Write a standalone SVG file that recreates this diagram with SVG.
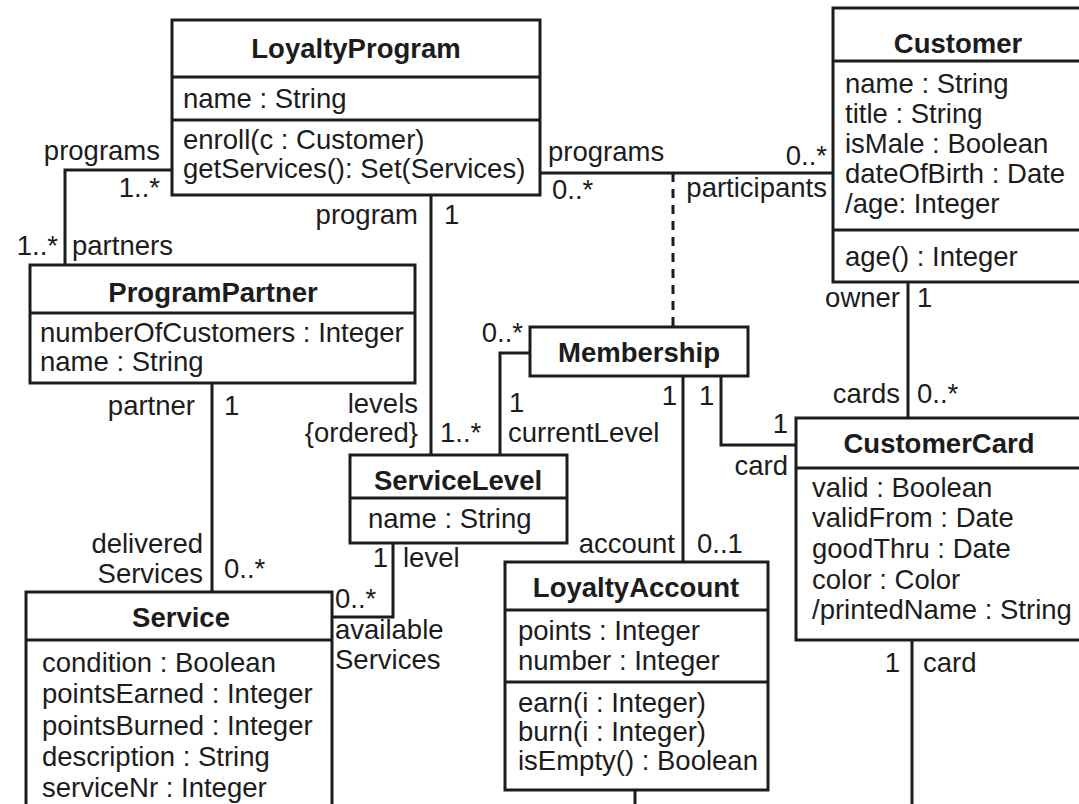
<svg xmlns="http://www.w3.org/2000/svg" width="1079" height="804" viewBox="0 0 1079 804">
<style>
.box{fill:#fff;stroke:#1c1c1c;stroke-width:3}
.sep{stroke:#1c1c1c;stroke-width:3}
.ln{fill:none;stroke:#1c1c1c;stroke-width:3}
.dash{fill:none;stroke:#1c1c1c;stroke-width:3;stroke-dasharray:9 7}
text{font-family:"Liberation Sans",Arial,Helvetica,sans-serif;font-size:27.5px;fill:#1c1c1c}
.t{font-weight:bold;text-anchor:middle}
.r{text-anchor:end}
</style>
<rect width="1079" height="804" fill="#fff"/>
<g id="connectors">
  <polyline class="ln" points="172,170 65,170 65,265"/>
  <line class="ln" x1="540" y1="173" x2="833" y2="173"/>
  <line class="dash" x1="673" y1="173" x2="673" y2="327"/>
  <line class="ln" x1="431" y1="195" x2="431" y2="455"/>
  <polyline class="ln" points="530,353 500,353 500,455"/>
  <line class="ln" x1="212" y1="383" x2="212" y2="592"/>
  <polyline class="ln" points="393,543 393,617 332,617"/>
  <line class="ln" x1="683" y1="376" x2="683" y2="562"/>
  <polyline class="ln" points="721,376 721,445 796,445"/>
  <line class="ln" x1="908" y1="282" x2="908" y2="418"/>
  <line class="ln" x1="912" y1="640" x2="912" y2="810"/>
  <line class="ln" x1="635" y1="790" x2="635" y2="810"/>
  <text class="r" x="160" y="160">programs</text>
  <text class="r" x="160" y="197">1..*</text>
  <text class="r" x="58" y="255">1..*</text>
  <text x="72" y="255">partners</text>
  <text x="548" y="161">programs</text>
  <text x="552" y="199">0..*</text>
  <text class="r" x="827" y="165">0..*</text>
  <text class="r" x="827" y="197">participants</text>
  <text class="r" x="418" y="224">program</text>
  <text x="444" y="224">1</text>
  <text class="r" x="195" y="415">partner</text>
  <text x="224" y="415">1</text>
  <text class="r" x="418" y="413">levels</text>
  <text class="r" x="418" y="442">{ordered}</text>
  <text x="440" y="442">1..*</text>
  <text class="r" x="523" y="342">0..*</text>
  <text x="509" y="412">1</text>
  <text x="508" y="442">currentLevel</text>
  <text class="r" x="677" y="405">1</text>
  <text x="699" y="405">1</text>
  <text class="r" x="788" y="433">1</text>
  <text class="r" x="788" y="475">card</text>
  <text class="r" x="675" y="553">account</text>
  <text x="697" y="553">0..1</text>
  <text class="r" x="900" y="307">owner</text>
  <text x="917" y="307">1</text>
  <text class="r" x="900" y="403">cards</text>
  <text x="917" y="403">0..*</text>
  <text class="r" x="900" y="672">1</text>
  <text x="923" y="672">card</text>
  <text class="r" x="203" y="553">delivered</text>
  <text class="r" x="203" y="583">Services</text>
  <text x="224" y="578">0..*</text>
  <text class="r" x="388" y="567">1</text>
  <text x="403" y="567">level</text>
  <text x="335" y="608">0..*</text>
  <text x="335" y="639">available</text>
  <text x="335" y="669">Services</text>
  <text class="r" x="628" y="823">1</text>
  <text x="645" y="823">account</text>
</g>
<g id="LoyaltyProgram">
  <rect class="box" x="172" y="20" width="368" height="175"/>
  <line class="sep" x1="172" y1="77" x2="540" y2="77"/>
  <line class="sep" x1="172" y1="120" x2="540" y2="120"/>
  <text class="t" x="356" y="58">LoyaltyProgram</text>
  <text x="183" y="108">name : String</text>
  <text x="183" y="149">enroll(c : Customer)</text>
  <text x="183" y="178">getServices(): Set(Services)</text>
</g>
<g id="Customer">
  <rect class="box" x="833" y="8" width="250" height="274"/>
  <line class="sep" x1="833" y1="61" x2="1083" y2="61"/>
  <line class="sep" x1="833" y1="230" x2="1083" y2="230"/>
  <text class="t" x="958" y="53">Customer</text>
  <text x="845" y="93">name : String</text>
  <text x="845" y="123">title : String</text>
  <text x="845" y="153">isMale : Boolean</text>
  <text x="845" y="183">dateOfBirth : Date</text>
  <text x="845" y="213">/age: Integer</text>
  <text x="845" y="266">age() : Integer</text>
</g>
<g id="ProgramPartner">
  <rect class="box" x="30" y="265" width="385" height="118"/>
  <line class="sep" x1="30" y1="313" x2="415" y2="313"/>
  <text class="t" x="213" y="302">ProgramPartner</text>
  <text x="40" y="342">numberOfCustomers : Integer</text>
  <text x="40" y="371">name : String</text>
</g>
<g id="Membership">
  <rect class="box" x="530" y="327" width="218" height="49"/>
  <text class="t" x="639" y="362">Membership</text>
</g>
<g id="ServiceLevel">
  <rect class="box" x="350" y="455" width="217" height="88"/>
  <line class="sep" x1="350" y1="498" x2="567" y2="498"/>
  <text class="t" x="458" y="490">ServiceLevel</text>
  <text x="368" y="528">name : String</text>
</g>
<g id="CustomerCard">
  <rect class="box" x="796" y="418" width="287" height="222"/>
  <line class="sep" x1="796" y1="468" x2="1083" y2="468"/>
  <text class="t" x="939" y="453">CustomerCard</text>
  <text x="812" y="497">valid : Boolean</text>
  <text x="812" y="527">validFrom : Date</text>
  <text x="812" y="558">goodThru : Date</text>
  <text x="812" y="589">color : Color</text>
  <text x="812" y="619">/printedName : String</text>
</g>
<g id="LoyaltyAccount">
  <rect class="box" x="505" y="562" width="263" height="228"/>
  <line class="sep" x1="505" y1="610" x2="768" y2="610"/>
  <line class="sep" x1="505" y1="682" x2="768" y2="682"/>
  <text class="t" x="636" y="597">LoyaltyAccount</text>
  <text x="518" y="640">points : Integer</text>
  <text x="518" y="670">number : Integer</text>
  <text x="518" y="712">earn(i : Integer)</text>
  <text x="518" y="741">burn(i : Integer)</text>
  <text x="518" y="770">isEmpty() : Boolean</text>
</g>
<g id="Service">
  <rect class="box" x="26" y="592" width="306" height="240"/>
  <line class="sep" x1="26" y1="640" x2="332" y2="640"/>
  <text class="t" x="181" y="627">Service</text>
  <text x="42" y="672">condition : Boolean</text>
  <text x="42" y="703">pointsEarned : Integer</text>
  <text x="42" y="735">pointsBurned : Integer</text>
  <text x="42" y="766">description : String</text>
  <text x="42" y="797">serviceNr : Integer</text>
</g>
</svg>
